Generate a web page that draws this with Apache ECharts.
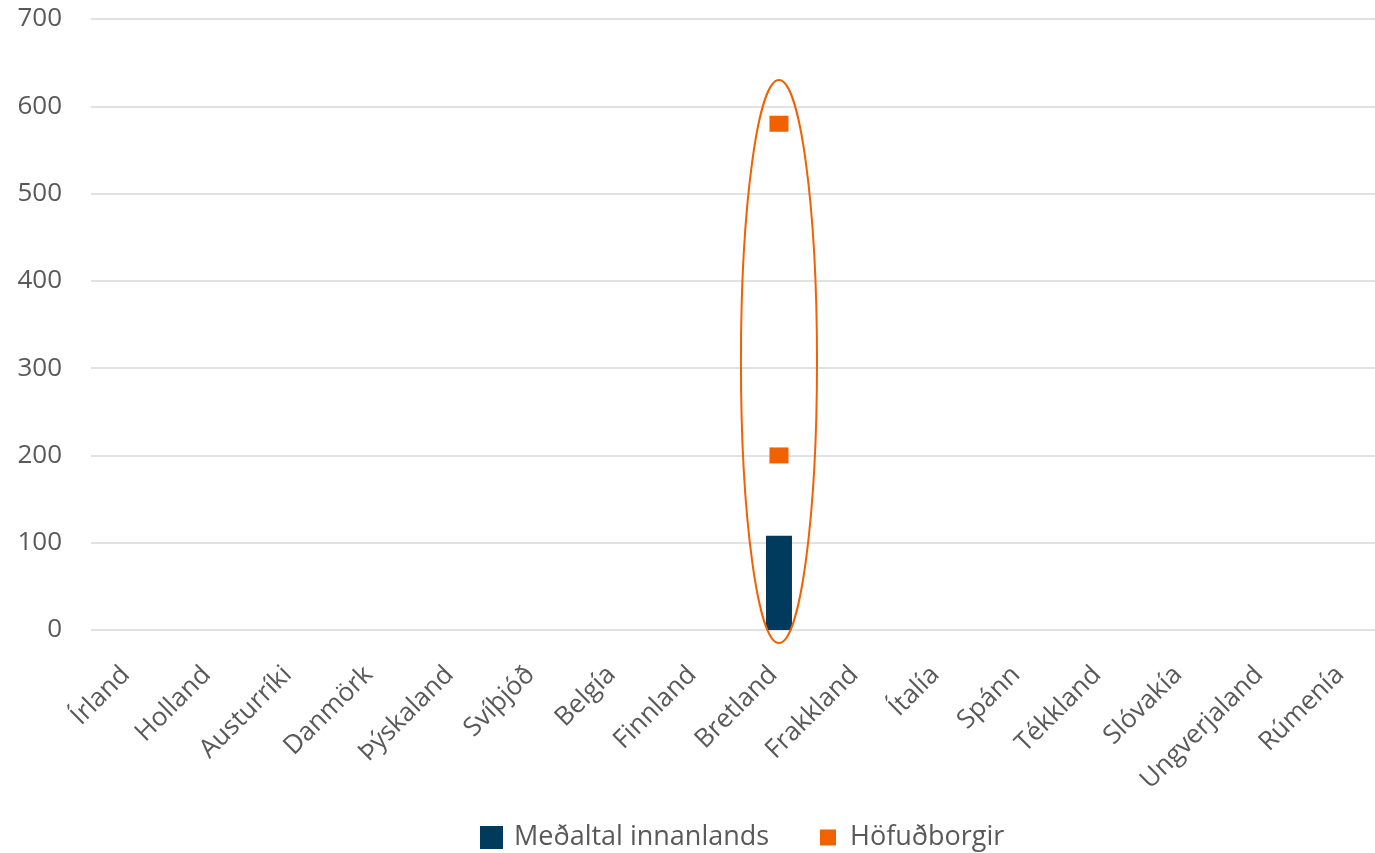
<!DOCTYPE html>
<html>
<head>
<meta charset="utf-8">
<script src="https://cdn.jsdelivr.net/npm/echarts@6/dist/echarts.min.js"></script>
<style>
html,body{margin:0;padding:0;background:#fff;overflow:hidden;}
#chart{width:1386px;height:853px;}
</style>
</head>
<body>
<div id="chart"></div>
<script>
const categories = ['Írland','Holland','Austurríki','Danmörk','Þýskaland','Svíþjóð','Belgía','Finnland','Bretland','Frakkland','Ítalía','Spánn','Tékkland','Slóvakía','Ungverjaland','Rúmenía'];
const averageValues = [null,null,null,null,null,null,null,null,108,null,null,null,null,null,null,null];
const capitalCategories = ['Bretland','Bretland'];
const capitalValues = [580, 200];
const yTicks = [0,100,200,300,400,500,600,700];
const highlightCategory = 'Bretland';
const highlightRange = [-15, 630];

const FONT = '"Open Sans", sans-serif';
const TXT = '#595959';
const FS = 26;
const chart = echarts.init(document.getElementById('chart'), null, {renderer:'canvas'});
const option = {
  animation:false,
  backgroundColor:'#fff',
  grid:{left:91,right:0,top:19,bottom:223,containLabel:false},
  legend:[
    {data:[{name:'Meðaltal innanlands',icon:'rect'}],left:480,top:824,padding:0,itemWidth:23,itemHeight:23,itemGap:10,
     textStyle:{fontFamily:FONT,fontSize:27,color:TXT,padding:[0,0,0,6]}},
    {data:[{name:'Höfuðborgir',icon:'rect'}],left:820,top:824,padding:0,itemWidth:16,itemHeight:16,itemGap:10,
     textStyle:{fontFamily:FONT,fontSize:27,color:TXT,padding:[0,0,0,9]}}
  ],
  xAxis:{type:'category',data:categories,
    axisLine:{show:false},axisTick:{show:false},
    axisLabel:{rotate:45,margin:35,padding:[0,8,0,0],fontFamily:FONT,fontSize:FS,color:TXT,interval:0}},
  yAxis:{type:'value',min:yTicks[0],max:yTicks[yTicks.length-1],interval:100,
    axisLine:{show:false},axisTick:{show:false},
    axisLabel:{margin:29,fontFamily:FONT,fontSize:FS,color:TXT},
    splitLine:{lineStyle:{color:'#d9d9d9',width:1.5}}},
  series:[
    {name:'Meðaltal innanlands',type:'bar',data:averageValues,barWidth:26,
     itemStyle:{color:'#003A5D'}},
    {name:'Höfuðborgir',type:'scatter',symbol:'rect',symbolSize:[19,16],
     data:capitalCategories.map((c,i)=>[c,capitalValues[i]]),
     itemStyle:{color:'#F26100',opacity:1}}
  ]
};
chart.setOption(option);
const pTop = chart.convertToPixel({xAxisIndex:0,yAxisIndex:0},[highlightCategory,highlightRange[1]]);
const pBot = chart.convertToPixel({xAxisIndex:0,yAxisIndex:0},[highlightCategory,highlightRange[0]]);
const hIdx = categories.indexOf(highlightCategory);
const pNext = chart.convertToPixel({xAxisIndex:0,yAxisIndex:0},[categories[hIdx+1],0]);
const catW = pNext[0]-pTop[0];
chart.setOption({graphic:[{type:'ellipse',shape:{cx:pTop[0],cy:(pTop[1]+pBot[1])/2,rx:catW*0.47,ry:(pBot[1]-pTop[1])/2},
  style:{fill:null,stroke:'#F26100',lineWidth:2},z:10}]});
</script>
</body>
</html>
